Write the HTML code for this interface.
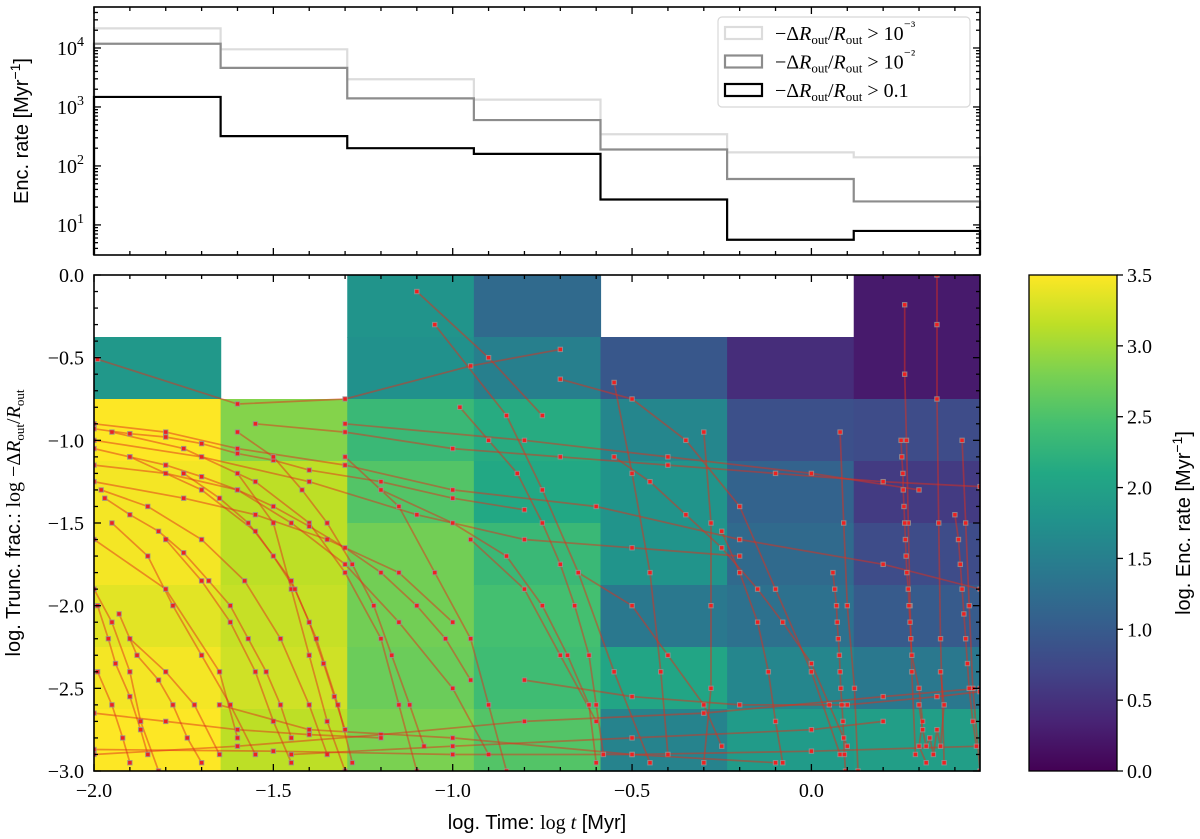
<!DOCTYPE html>
<html><head><meta charset="utf-8">
<style>
html,body{margin:0;padding:0;background:#fff;}
svg{display:block;}
.serif{font-family:"Liberation Serif","DejaVu Serif",serif;}
.sans{font-family:"Liberation Sans","DejaVu Sans",sans-serif;}
</style></head>
<body>
<svg id="fig" width="1200" height="839" viewBox="0 0 1200 839" xmlns="http://www.w3.org/2000/svg">
<defs>
<linearGradient id="vir" x1="0" y1="1" x2="0" y2="0">
<stop offset="0" stop-color="#440154"/><stop offset="0.1" stop-color="#482475"/><stop offset="0.2" stop-color="#414487"/><stop offset="0.3" stop-color="#355f8d"/><stop offset="0.4" stop-color="#2a788e"/><stop offset="0.5" stop-color="#21918c"/><stop offset="0.6" stop-color="#22a884"/><stop offset="0.7" stop-color="#44bf70"/><stop offset="0.8" stop-color="#7ad151"/><stop offset="0.9" stop-color="#bddf26"/><stop offset="1" stop-color="#fde725"/>
</linearGradient>
<clipPath id="clipMain"><rect x="94" y="275" width="886" height="496"/></clipPath>
</defs>
<g id="topPanel"></g>
<g id="mainPanel"></g>
<g id="cbarPanel"></g>
</svg>
<script>
// ---- data ----
const binEdges = [-2.0,-1.647,-1.294,-0.941,-0.588,-0.235,0.118,0.47];
const rateLight = [21500,9500,2950,1330,345,170,140];
const rateGray  = [11800,4600,1400,600,190,60,25];
const rateBlack = [1480,320,200,160,27,5.6,7.9];
const legendLabels = ["10\u207B\u00B3","10\u207B\u00B2","0.1"];
const rowEdges = [0,-0.375,-0.75,-1.125,-1.5,-1.875,-2.25,-2.625,-3.0];
const heatCol0 = [null,1.85,3.5,3.45,3.45,3.35,3.45,3.5];
const heatCol1 = [null,null,2.85,3.15,3.15,3.2,3.25,3.15];
const heatCol2 = [1.8,1.75,2.35,2.55,2.75,2.75,2.7,2.8];
const heatCol3 = [1.2,1.5,2.15,2.1,2.35,2.45,2.4,2.55];
const heatCol4 = [null,0.95,1.6,1.8,1.8,1.4,2.05,1.55];
const heatCol5 = [null,0.45,0.85,1.1,1.2,1.3,1.6,1.9];
const heatCol6 = [0.25,0.25,0.8,0.6,0.8,1.0,1.4,1.95];
const xTicks = [-2.0,-1.5,-1.0,-0.5,0.0];
const xTickLabels = ["\u22122.0","\u22121.5","\u22121.0","\u22120.5","0.0"];
const yTicks = [0,-0.5,-1,-1.5,-2,-2.5,-3];
const yTickLabels = ["0.0","\u22120.5","\u22121.0","\u22121.5","\u22122.0","\u22122.5","\u22123.0"];
const cbTicks = [0,0.5,1,1.5,2,2.5,3,3.5];
const cbTickLabels = ["0.0","0.5","1.0","1.5","2.0","2.5","3.0","3.5"];
const trajectories = [
[[-2,-0.9],[-1.8,-0.95],[-1.6,-1.05],[-1.3,-1.15],[-1.0,-1.3],[-0.6,-1.4],[-0.2,-1.6],[0.2,-1.75],[0.47,-1.9]],
[[-2,-1.0],[-1.7,-1.1],[-1.4,-1.25],[-1.1,-1.45],[-0.8,-1.6],[-0.5,-1.65],[-0.2,-1.7]],
[[-2,-1.15],[-1.8,-1.2],[-1.6,-1.3],[-1.45,-1.5],[-1.3,-1.75],[-1.15,-2.1],[-1.0,-2.5],[-0.9,-2.9]],
[[-1.98,-1.3],[-1.85,-1.4],[-1.7,-1.6],[-1.58,-1.85],[-1.48,-2.2],[-1.4,-2.6],[-1.35,-2.9]],
[[-1.95,-1.5],[-1.85,-1.7],[-1.78,-2.0],[-1.7,-2.3],[-1.62,-2.6],[-1.55,-2.9]],
[[-2,-1.9],[-1.95,-2.1],[-1.9,-2.4],[-1.87,-2.7],[-1.82,-3.0]],
[[-1.99,-2.4],[-1.95,-2.6],[-1.92,-2.8],[-1.9,-2.95]],
[[-1.95,-0.95],[-1.75,-1.05],[-1.55,-1.25],[-1.4,-1.5],[-1.3,-1.8],[-1.2,-2.2],[-1.15,-2.6],[-1.1,-3.0]],
[[-1.9,-1.1],[-1.7,-1.3],[-1.55,-1.55],[-1.45,-1.85],[-1.38,-2.2],[-1.32,-2.6],[-1.28,-2.95]],
[[-1.8,-1.6],[-1.7,-1.85],[-1.62,-2.1],[-1.55,-2.4],[-1.5,-2.7],[-1.45,-2.95]],
[[-2,-2.87],[-1.5,-2.88],[-1.0,-2.9],[-0.5,-2.9],[0.0,-2.88],[0.47,-2.85]],
[[-2,-2.9],[-1.6,-2.85],[-1.2,-2.78],[-0.8,-2.7],[-0.3,-2.65],[0.2,-2.55],[0.47,-2.5]],
[[-1.99,-0.51],[-1.6,-0.78],[-1.3,-0.75],[-0.95,-0.55],[-0.7,-0.45]],
[[-1.1,-0.1],[-0.9,-0.5],[-0.75,-0.85]],
[[-1.05,-0.3],[-0.85,-0.85],[-0.75,-1.3],[-0.65,-1.8],[-0.55,-2.4],[-0.45,-2.95]],
[[-0.7,-0.63],[-0.5,-0.75],[-0.35,-1.0],[-0.2,-1.4],[-0.1,-1.9],[0.0,-2.4],[0.08,-2.9]],
[[-0.55,-0.65],[-0.5,-1.2],[-0.45,-1.8],[-0.42,-2.4],[-0.4,-2.9]],
[[-0.3,-0.95],[-0.28,-1.5],[-0.28,-2.0],[-0.28,-2.5],[-0.3,-2.95]],
[[0.26,-0.18],[0.26,-0.6],[0.265,-1.0],[0.27,-1.5],[0.275,-2.0],[0.28,-2.4],[0.29,-2.9]],
[[0.35,0],[0.35,-0.3],[0.35,-0.75],[0.355,-1.5],[0.36,-2.2],[0.37,-2.95]],
[[0.42,-1.0],[0.43,-1.5],[0.44,-2.0],[0.45,-2.5],[0.47,-3.0]],
[[0.08,-0.95],[0.09,-1.5],[0.1,-2.0],[0.12,-2.5],[0.13,-3.0]],
[[-1.6,-1.2],[-1.5,-1.5],[-1.45,-1.9],[-1.4,-2.3],[-1.35,-2.7],[-1.3,-3.0]],
[[-1.3,-1.1],[-1.15,-1.4],[-1.05,-1.8],[-0.95,-2.2],[-0.9,-2.6],[-0.85,-3.0]],
[[-2,-1.6],[-1.8,-1.9],[-1.65,-2.4],[-1.6,-2.8]],
[[-1.65,-2.6],[-1.4,-2.75],[-1.0,-2.8],[-0.5,-2.9],[-0.1,-2.95]],
[[-1.3,-0.9],[-0.8,-1.0],[-0.4,-1.1],[0.0,-1.2],[0.3,-1.3]],
[[-0.95,-1.6],[-0.8,-1.9],[-0.7,-2.3],[-0.6,-2.7]],
[[-2,-1.25],[-1.75,-1.35],[-1.55,-1.45],[-1.35,-1.6],[-1.15,-1.8],[-1.0,-2.1]],
[[-1.9,-2.2],[-1.8,-2.4],[-1.72,-2.6],[-1.65,-2.9]],
[[-2,-0.93],[-1.9,-0.96],[-1.8,-0.98],[-1.7,-1.02],[-1.6,-1.08],[-1.5,-1.12],[-1.4,-1.18],[-1.2,-1.25],[-1.0,-1.35],[-0.8,-1.42]],
[[-2,-1.05],[-1.9,-1.1],[-1.8,-1.15],[-1.7,-1.22],[-1.6,-1.3],[-1.5,-1.4],[-1.4,-1.52],[-1.3,-1.65],[-1.2,-1.8],[-1.1,-2.0],[-1.02,-2.2],[-0.95,-2.45]],
[[-1.97,-1.35],[-1.9,-1.45],[-1.82,-1.55],[-1.75,-1.68],[-1.68,-1.85],[-1.62,-2.0],[-1.57,-2.2],[-1.52,-2.4],[-1.48,-2.6],[-1.45,-2.8]],
[[-1.75,-1.2],[-1.65,-1.35],[-1.57,-1.5],[-1.5,-1.7],[-1.44,-1.9],[-1.4,-2.1],[-1.36,-2.35],[-1.33,-2.55],[-1.3,-2.75]],
[[-1.6,-0.95],[-1.5,-1.1],[-1.42,-1.3],[-1.35,-1.5],[-1.28,-1.75],[-1.22,-2.0],[-1.17,-2.3],[-1.12,-2.6],[-1.08,-2.85]],
[[-1.99,-2.0],[-1.96,-2.2],[-1.94,-2.35],[-1.9,-2.55],[-1.87,-2.75],[-1.85,-2.9]],
[[-1.93,-2.05],[-1.88,-2.3],[-1.82,-2.45],[-1.78,-2.6],[-1.74,-2.8],[-1.7,-2.95]],
[[-0.98,-0.8],[-0.9,-1.0],[-0.82,-1.2],[-0.75,-1.5],[-0.7,-1.75],[-0.66,-2.0],[-0.62,-2.3],[-0.6,-2.6],[-0.58,-2.9]],
[[-0.55,-1.1],[-0.45,-1.25],[-0.35,-1.45],[-0.25,-1.65],[-0.15,-1.9],[-0.08,-2.1],[0.0,-2.35],[0.05,-2.6],[0.1,-2.85]],
[[0.25,-1.0],[0.252,-1.1],[0.255,-1.2],[0.256,-1.3],[0.258,-1.4],[0.26,-1.5],[0.262,-1.6],[0.264,-1.7],[0.266,-1.8],[0.27,-1.9],[0.272,-2.0],[0.275,-2.1],[0.277,-2.2],[0.28,-2.3],[0.3,-2.5],[0.31,-2.7],[0.3,-2.85],[0.32,-2.95]],
[[0.06,-1.8],[0.065,-1.9],[0.07,-2.0],[0.072,-2.1],[0.075,-2.2],[0.078,-2.3],[0.08,-2.4],[0.082,-2.5],[0.085,-2.6],[0.088,-2.7],[0.09,-2.8],[0.092,-2.9],[0.095,-3.0]],
[[0.4,-1.45],[0.41,-1.6],[0.415,-1.75],[0.42,-1.9],[0.425,-2.05],[0.43,-2.2],[0.435,-2.35],[0.44,-2.5],[0.45,-2.7],[0.46,-2.85]],
[[0.3,-2.6],[0.31,-2.75],[0.32,-2.85],[0.33,-2.8],[0.34,-2.9],[0.35,-2.75],[0.36,-2.85],[0.37,-2.6],[0.36,-2.4]],
[[-2,-2.65],[-1.8,-2.7],[-1.6,-2.75],[-1.4,-2.78],[-1.2,-2.8]],
[[-1.45,-2.9],[-1.0,-2.85],[-0.5,-2.8],[0,-2.75],[0.2,-2.7]],
[[-0.25,-1.55],[-0.2,-1.8],[-0.15,-2.1],[-0.12,-2.4],[-0.1,-2.7],[-0.08,-2.95]],
[[-0.65,-1.8],[-0.5,-2.0],[-0.4,-2.3],[-0.3,-2.6],[-0.25,-2.85]],
[[-1.2,-1.3],[-1.0,-1.5],[-0.85,-1.7],[-0.75,-2.0],[-0.68,-2.3],[-0.62,-2.6],[-0.6,-2.95]],
[[-0.8,-2.45],[-0.5,-2.55],[-0.2,-2.6],[0.1,-2.6],[0.35,-2.55],[0.47,-2.52]],
[[-1.55,-0.9],[-1.3,-0.95],[-1.0,-1.05],[-0.7,-1.1],[-0.4,-1.15],[-0.1,-1.2],[0.2,-1.25],[0.47,-1.28]]
];

// ---- scales ----
const NS="http://www.w3.org/2000/svg";
const X0=94, X1=980, XMIN=-2.0, XMAX=0.47;
const xs = v => X0 + (v-XMIN)/(XMAX-XMIN)*(X1-X0);
const TY0=7, TY1=255, LMIN=0.49, LMAX=4.695;
const ty = v => TY1 - (Math.log10(v)-LMIN)/(LMAX-LMIN)*(TY1-TY0);
const MY0=275, MY1=771;
const my = v => MY1 - (v+3)/3*(MY1-MY0);
const CB0=1029, CB1=1117;
const cy = v => MY1 - v/3.5*(MY1-MY0);
function el(tag, attrs, parent){const e=document.createElementNS(NS,tag);for(const k in attrs)e.setAttribute(k,attrs[k]);parent.appendChild(e);return e;}
const vir=["#440154","#482475","#414487","#355f8d","#2a788e","#21918c","#22a884","#44bf70","#7ad151","#bddf26","#fde725"];
function hex(h){return [parseInt(h.substr(1,2),16),parseInt(h.substr(3,2),16),parseInt(h.substr(5,2),16)];}
function viridis(v){let t=Math.max(0,Math.min(1,v/3.5))*10;let i=Math.min(9,Math.floor(t));let f=t-i;const a=hex(vir[i]),b=hex(vir[i+1]);return "rgb("+a.map((c,k)=>Math.round(c+(b[k]-c)*f)).join(",")+")";}

// ---- top panel ----
const topG=document.getElementById('topPanel');
function stepPath(vals){let d="";for(let i=0;i<vals.length;i++){const x0=xs(binEdges[i]),x1=xs(binEdges[i+1]),y=ty(vals[i]);d+=(i===0?"M"+x0+","+TY1+"L"+x0+","+y:"L"+x0+","+y)+"L"+x1+","+y;}d+="L"+xs(binEdges[vals.length])+","+TY1;return d;}
const series=[[rateLight,"#dcdcdc","light"],[rateGray,"#8c8c8c","gray"],[rateBlack,"#000","black"]];
series.forEach(s=>{const p=el('path',{d:stepPath(s[0]),fill:'none',stroke:s[1],'stroke-width':2.2},topG);

});
const tframe=el('rect',{x:X0,y:TY0,width:X1-X0,height:TY1-TY0,fill:'none',stroke:'#000','stroke-width':1.6},topG);


function xTicksOn(g,yb,ytop){for(let k=0;k<=24;k++){const v=-2.0+k*0.1;const major=(k%5===0);const L=major?7:4;const x=xs(v);el('line',{x1:x,x2:x,y1:yb,y2:yb-L,stroke:'#000','stroke-width':1.3},g);el('line',{x1:x,x2:x,y1:ytop,y2:ytop+L,stroke:'#000','stroke-width':1.3},g);}}
xTicksOn(topG,TY1,TY0);
for(let d=0;d<=5;d++){for(let m=1;m<10;m++){const v=m*Math.pow(10,d);const lv=Math.log10(v);if(lv<LMIN||lv>LMAX)continue;const y=ty(v);const L=m===1?7:4;el('line',{x1:X0,x2:X0+L,y1:y,y2:y,stroke:'#000','stroke-width':1.3},topG);el('line',{x1:X1,x2:X1-L,y1:y,y2:y,stroke:'#000','stroke-width':1.3},topG);}}
[1,2,3,4].forEach(p=>{const t=el('text',{x:84,y:ty(Math.pow(10,p))+7,'text-anchor':'end','font-size':20,class:'serif'},topG);


t.textContent="10";const s=el('tspan',{dy:-9,'font-size':14},t);s.textContent=String(p);});
const tyl=el('text',{x:28,y:131,'text-anchor':'middle','font-size':20,class:'sans',transform:'rotate(-90 28 131)'},topG);


tyl.textContent="Enc.  rate [Myr";const tys=el('tspan',{dy:-8,'font-size':14},tyl);tys.textContent="\u22121";const tye=el('tspan',{dy:8},tyl);tye.textContent="]";
// legend
const leg=el('g',{},topG);


el('rect',{x:718,y:17,width:252,height:90,rx:4,fill:'#fff',stroke:'#d8d8d8','stroke-width':1.2},leg);
series.forEach((s,i)=>{const y=33+i*28.5;
const r=el('rect',{x:725,y:y-6,width:37,height:12,fill:'none',stroke:s[1],'stroke-width':2.2},leg);


const t=el('text',{x:775,y:y+7,'font-size':20,class:'serif'},leg);


const parts=[["\u2212\u0394",{}],["R",{'font-style':'italic'}],["out",{'font-size':13,dy:4}],["/",{dy:-4}],["R",{'font-style':'italic'}],["out",{'font-size':13,dy:4}],[" > ",{dy:-4}]];
parts.forEach(pp=>{const ts=el('tspan',pp[1],t);ts.textContent=pp[0];});
const lab=legendLabels[i];
if(lab.startsWith("10")){const a=el('tspan',{},t);a.textContent="10";const b=el('tspan',{dy:-9,'font-size':14},t);b.textContent=lab.slice(2);}else{const a=el('tspan',{},t);a.textContent=lab;}
});

// ---- main panel ----
const mainG=document.getElementById('mainPanel');
const heatCols=[heatCol0,heatCol1,heatCol2,heatCol3,heatCol4,heatCol5,heatCol6];
const hg=el('g',{},mainG);
heatCols.forEach((col,ci)=>{col.forEach((v,ri)=>{if(v===null)return;
const x0=xs(binEdges[ci]),x1=xs(binEdges[ci+1]),y0=my(rowEdges[ri]),y1=my(rowEdges[ri+1]);
const r=el('rect',{x:x0,y:y0,width:x1-x0+0.6,height:y1-y0+0.6,fill:viridis(v)},hg);

});});
const tg=el('g',{'clip-path':'url(#clipMain)'},mainG);
trajectories.forEach(tr=>{const d=tr.map((p,i)=>(i?"L":"M")+xs(p[0]).toFixed(1)+","+my(p[1]).toFixed(1)).join("");
const pl=el('path',{d:d,fill:'none',stroke:'rgba(225,45,25,0.5)','stroke-width':1.7},tg);


tr.forEach(p=>{const m=el('rect',{x:xs(p[0])-2.2,y:my(p[1])-2.2,width:4.4,height:4.4,fill:'#f02020',stroke:'rgba(150,150,150,0.8)','stroke-width':1},tg);

});});
const mframe=el('rect',{x:X0,y:MY0,width:X1-X0,height:MY1-MY0,fill:'none',stroke:'#000','stroke-width':1.6},mainG);


xTicksOn(mainG,MY1,MY0);
for(let k=0;k<=30;k++){const v=-k*0.1;const major=(k%5===0);const L=major?7:4;const y=my(v);el('line',{x1:X0,x2:X0+L,y1:y,y2:y,stroke:'#000','stroke-width':1.3},mainG);el('line',{x1:X1,x2:X1-L,y1:y,y2:y,stroke:'#000','stroke-width':1.3},mainG);}
xTicks.forEach((v,i)=>{const t=el('text',{x:xs(v),y:797,'text-anchor':'middle','font-size':20,class:'serif'},mainG);


t.textContent=xTickLabels[i];});
yTicks.forEach((v,i)=>{const t=el('text',{x:84,y:my(v)+7,'text-anchor':'end','font-size':20,class:'serif'},mainG);


t.textContent=yTickLabels[i];});
const xl=el('text',{x:537,y:829,'text-anchor':'middle','font-size':20,class:'sans'},mainG);


[["log.  Time: ",{}],["log ",{class:'serif'}],["t",{class:'serif','font-style':'italic'}],[" [Myr]",{}]].forEach(pp=>{const ts=el('tspan',pp[1],xl);ts.textContent=pp[0];});
const yl=el('text',{x:20,y:523,'text-anchor':'middle','font-size':20,class:'sans',transform:'rotate(-90 20 523)'},mainG);


[["log.  Trunc.  frac.: ",{}],["log \u2212\u0394",{class:'serif'}],["R",{class:'serif','font-style':'italic'}],["out",{class:'serif','font-size':13,dy:4}],["/",{class:'serif',dy:-4}],["R",{class:'serif','font-style':'italic'}],["out",{class:'serif','font-size':13,dy:4}]].forEach(pp=>{const ts=el('tspan',pp[1],yl);ts.textContent=pp[0];});

// ---- colorbar ----
const cbG=document.getElementById('cbarPanel');
const cr=el('rect',{x:CB0,y:MY0,width:CB1-CB0,height:MY1-MY0,fill:'url(#vir)',stroke:'#000','stroke-width':1.3},cbG);


cbTicks.forEach((v,i)=>{const y=cy(v);el('line',{x1:CB1,x2:CB1+6,y1:y,y2:y,stroke:'#000','stroke-width':1.3},cbG);
const t=el('text',{x:CB1+10,y:y+7,'font-size':20,class:'serif'},cbG);


t.textContent=cbTickLabels[i];});
const cl=el('text',{x:1190,y:523,'text-anchor':'middle','font-size':20,class:'sans',transform:'rotate(-90 1190 523)'},cbG);


[["log.  Enc.  rate [Myr",{}],["\u22121",{dy:-8,'font-size':14}],["]",{dy:8}]].forEach(pp=>{const ts=el('tspan',pp[1],cl);ts.textContent=pp[0];});
</script>
</body></html>
